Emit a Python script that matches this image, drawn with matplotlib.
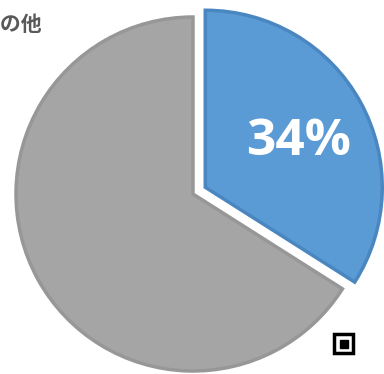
import matplotlib.pyplot as plt
from matplotlib.patches import Rectangle

# data
labels = ['回答', 'その他']
values = [34, 66]
colors = ['#5B9BD5', '#A5A5A5']
edges = ['#4A86C0', '#979797']
explode = [14, 0]  # matplotlib uses data units for the offset

fig = plt.figure(figsize=(3.84, 3.74), dpi=100)
ax = fig.add_axes([0, 0, 1, 1])

wedges, texts, autotexts = ax.pie(
    values, colors=colors, explode=explode, startangle=90, counterclock=False,
    center=(193, 180), radius=177, frame=True,
    autopct=lambda p: f'{p:.0f}%' if p < 50 else '', pctdistance=0.58,
    textprops=dict(color='white', fontsize=37, fontweight='bold', family='Open Sans'),
    wedgeprops=dict(linewidth=2.5))
for w, ec in zip(wedges, edges):
    w.set_edgecolor(ec)
# nudge the percentage a little lower/right
x, y = autotexts[0].get_position()
autotexts[0].set_position((x + 3, y - 4))

ax.set_xlim(0, 384)
ax.set_ylim(0, 374)
ax.axis('off')

# legend label, cut off at the left edge like the source
fig.text(42 / 384, 1 - 24 / 374, labels[1], ha='right', va='center', fontsize=15,
         fontweight='bold', color='#595959', family=['Noto Sans CJK JP', 'DejaVu Sans'])

# QR code corner (partially visible)
ax.add_patch(Rectangle((334, 374 - 353), 19, 19, fill=False, ec='black', lw=2.5))
ax.add_patch(Rectangle((339.5, 374 - 347.5), 8, 8, color='black'))

fig.savefig('out.png', dpi=100)
